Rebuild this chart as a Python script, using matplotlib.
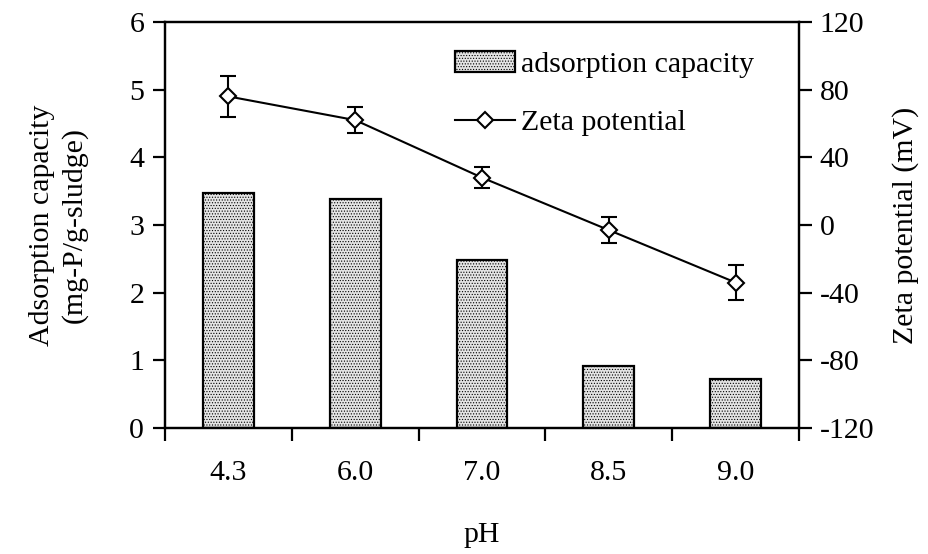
import numpy as np
import matplotlib
matplotlib.use("Agg")
from matplotlib import pyplot as plt
from matplotlib.patches import Patch
from matplotlib.lines import Line2D

# data
ph_labels = ['4.3', '6.0', '7.0', '8.5', '9.0']
capacity = [3.48, 3.39, 2.48, 0.91, 0.73]
zeta = [76, 62, 28, -3, -34]
zeta_err = [12, 7.5, 6, 7.5, 10.5]

plt.rcParams['font.family'] = ['Liberation Serif', 'DejaVu Serif']
plt.rcParams['axes.unicode_minus'] = False
plt.rcParams['hatch.color'] = '#a8a8a8'
plt.rcParams['hatch.linewidth'] = 0.5

fs = 21.5
fig = plt.figure(figsize=(9.29, 5.54), dpi=100)
ax = fig.add_axes([0.1776, 0.2274, 0.6825, 0.7329])
x = np.arange(len(ph_labels))

ax.bar(x, capacity, width=0.4, color='#e4e4e4', edgecolor='black',
       linewidth=1.6, hatch='......', zorder=2)
ax.set_xlim(-0.5, len(ph_labels) - 0.5)
ax.set_ylim(0, 6)
ax.set_yticks(np.arange(0, 7, 1))

# x ticks at category borders, labels at centers
ax.set_xticks(np.arange(-0.5, len(ph_labels), 1))
ax.set_xticklabels([])
ax.set_xticks(x, minor=True)
ax.set_xticklabels(ph_labels, minor=True)
ax.tick_params(axis='x', which='major', direction='out', length=9, width=1.6)
ax.tick_params(axis='x', which='minor', length=0, pad=23, labelsize=fs)
ax.tick_params(axis='y', direction='out', length=9, width=1.6, labelsize=fs, pad=6)
for s in ax.spines.values():
    s.set_linewidth(1.6)

ax.set_xlabel('pH', fontsize=fs, labelpad=26)
ax.set_ylabel('Adsorption capacity\n(mg-P/g-sludge)', fontsize=fs, labelpad=30,
              linespacing=1.25)

ax2 = ax.twinx()
ax2.errorbar(x, zeta, yerr=zeta_err, color='black', linewidth=1.5,
             marker='D', markersize=8, mfc='white', mec='black', mew=1.5,
             capsize=6, capthick=1.5, elinewidth=1.5, zorder=3)
ax2.set_ylim(-120, 120)
ax2.set_yticks(np.arange(-120, 121, 40))
ax2.tick_params(axis='y', direction='out', length=9, width=1.6, labelsize=fs, pad=6)
ax2.set_ylabel('Zeta potential (mV)', fontsize=fs, labelpad=13)
for s in ax2.spines.values():
    s.set_linewidth(1.6)

handles = [Patch(facecolor='#e4e4e4', edgecolor='black', linewidth=1.6, hatch='......'),
           Line2D([], [], color='black', linewidth=1.5, marker='D', markersize=8,
                  mfc='white', mec='black', mew=1.5)]
ax2.legend(handles, ['adsorption capacity', 'Zeta potential'], loc='upper left',
           bbox_to_anchor=(0.415, 0.995), frameon=False, fontsize=fs,
           labelspacing=1.05, handlelength=2.0, handletextpad=0.2)

fig.savefig('out.png', dpi=100)
